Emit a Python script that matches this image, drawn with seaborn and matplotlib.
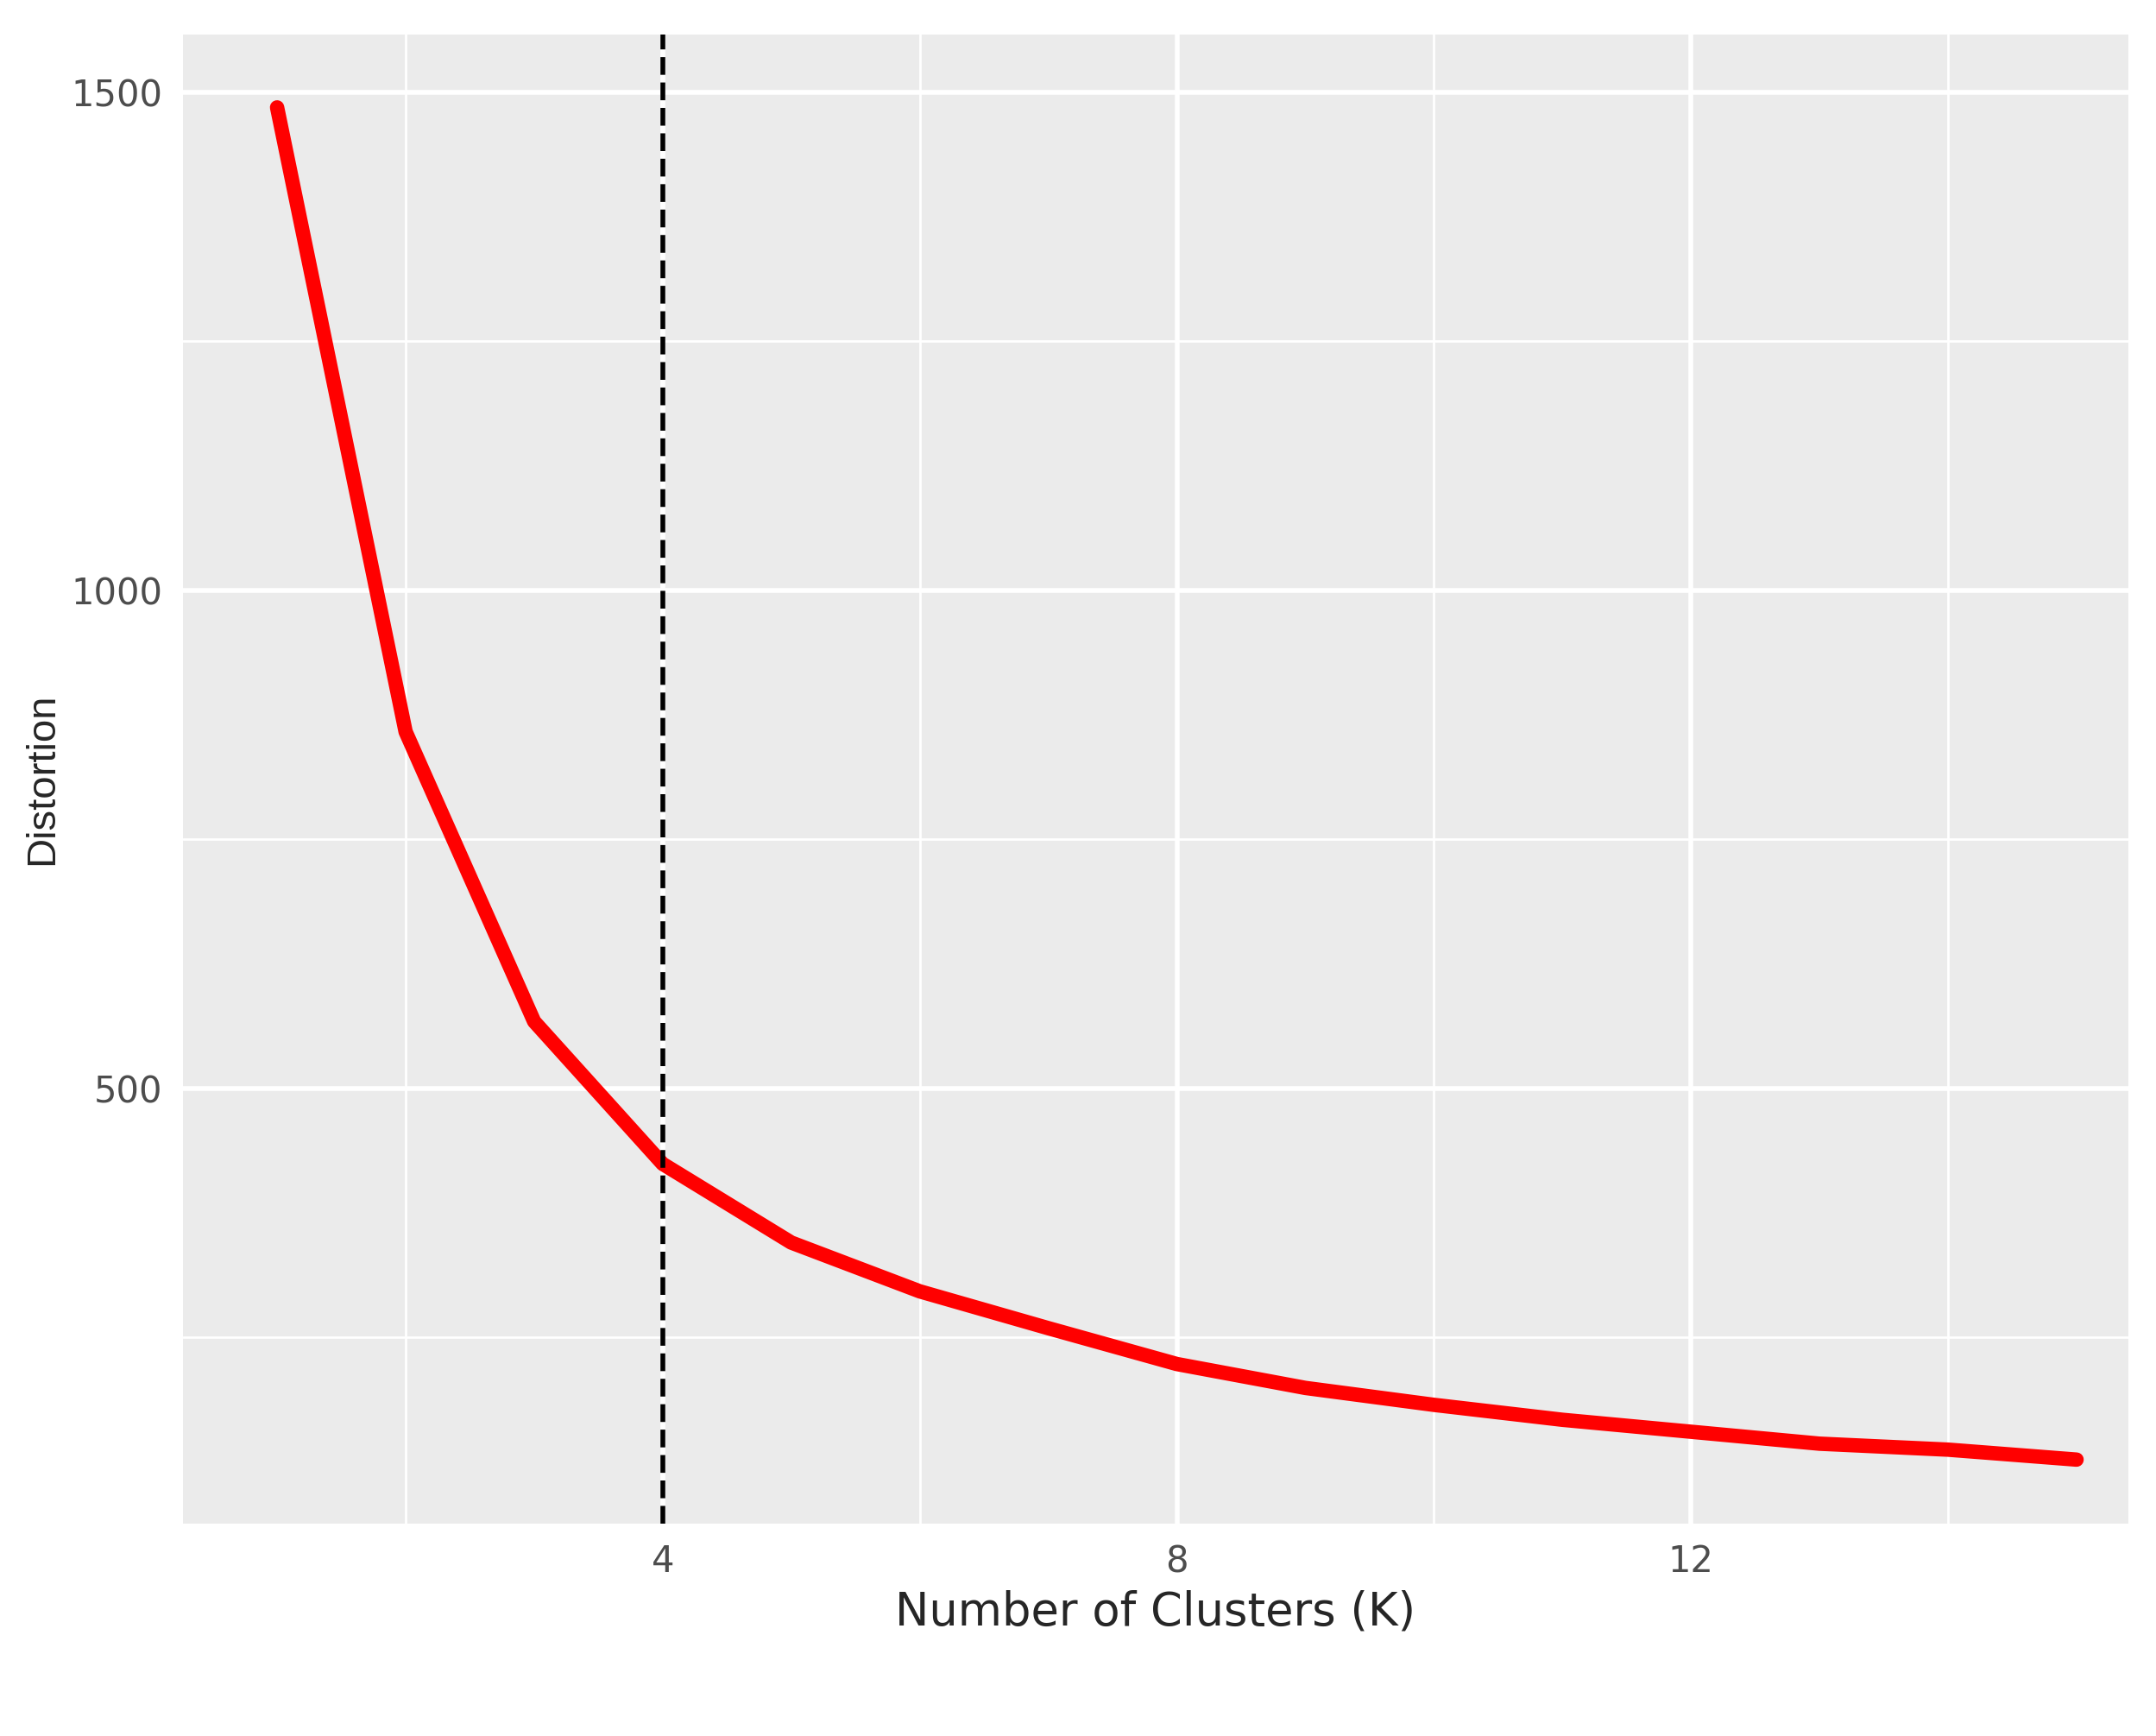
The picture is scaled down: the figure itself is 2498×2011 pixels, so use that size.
import matplotlib
matplotlib.use("Agg")
import matplotlib.pyplot as plt
import seaborn as sns
import pandas as pd

# Elbow curve values
k_values = list(range(1, 16))
distortion = [1485, 858, 567, 424, 345, 296, 259, 223, 199, 182, 167, 155, 143, 137, 127]
best_k = 4

dat = pd.DataFrame({"k": k_values, "distortion": distortion})

sns.set_style("darkgrid", {"axes.facecolor": "#EBEBEB", "grid.color": "white"})
plt.rcParams["font.family"] = ["Liberation Sans Narrow", "DejaVu Sans"]

fig = plt.figure(figsize=(12.49, 10.055), dpi=200)
ax = fig.add_axes([0.085, 0.1225, 0.902, 0.8575])

sns.lineplot(data=dat, x="k", y="distortion", color="red", linewidth=6, ax=ax)
ax.axvline(best_k, color="black", linestyle="--", linewidth=2)

ax.set_xlim(0.27, 15.4)
ax.set_ylim(63, 1558)
ax.set_xticks([4, 8, 12])
ax.set_yticks([500, 1000, 1500])
ax.set_xticks([2, 6, 10, 14], minor=True)
ax.set_yticks([250, 750, 1250], minor=True)
ax.grid(which="major", color="white", linewidth=2)
ax.grid(which="minor", color="white", linewidth=1)
for s in ax.spines.values():
    s.set_visible(False)
ax.tick_params(axis="both", which="major", labelsize=15, labelcolor="#4D4D4D",
               length=5, color="#333333", width=1.2)
ax.tick_params(which="minor", length=0)

ax.set_xlabel("Number of Clusters (K)", fontsize=19)
ax.set_ylabel("Distortion", fontsize=17, family=["Liberation Sans", "DejaVu Sans"])

fig.savefig("out.png", dpi=200)
